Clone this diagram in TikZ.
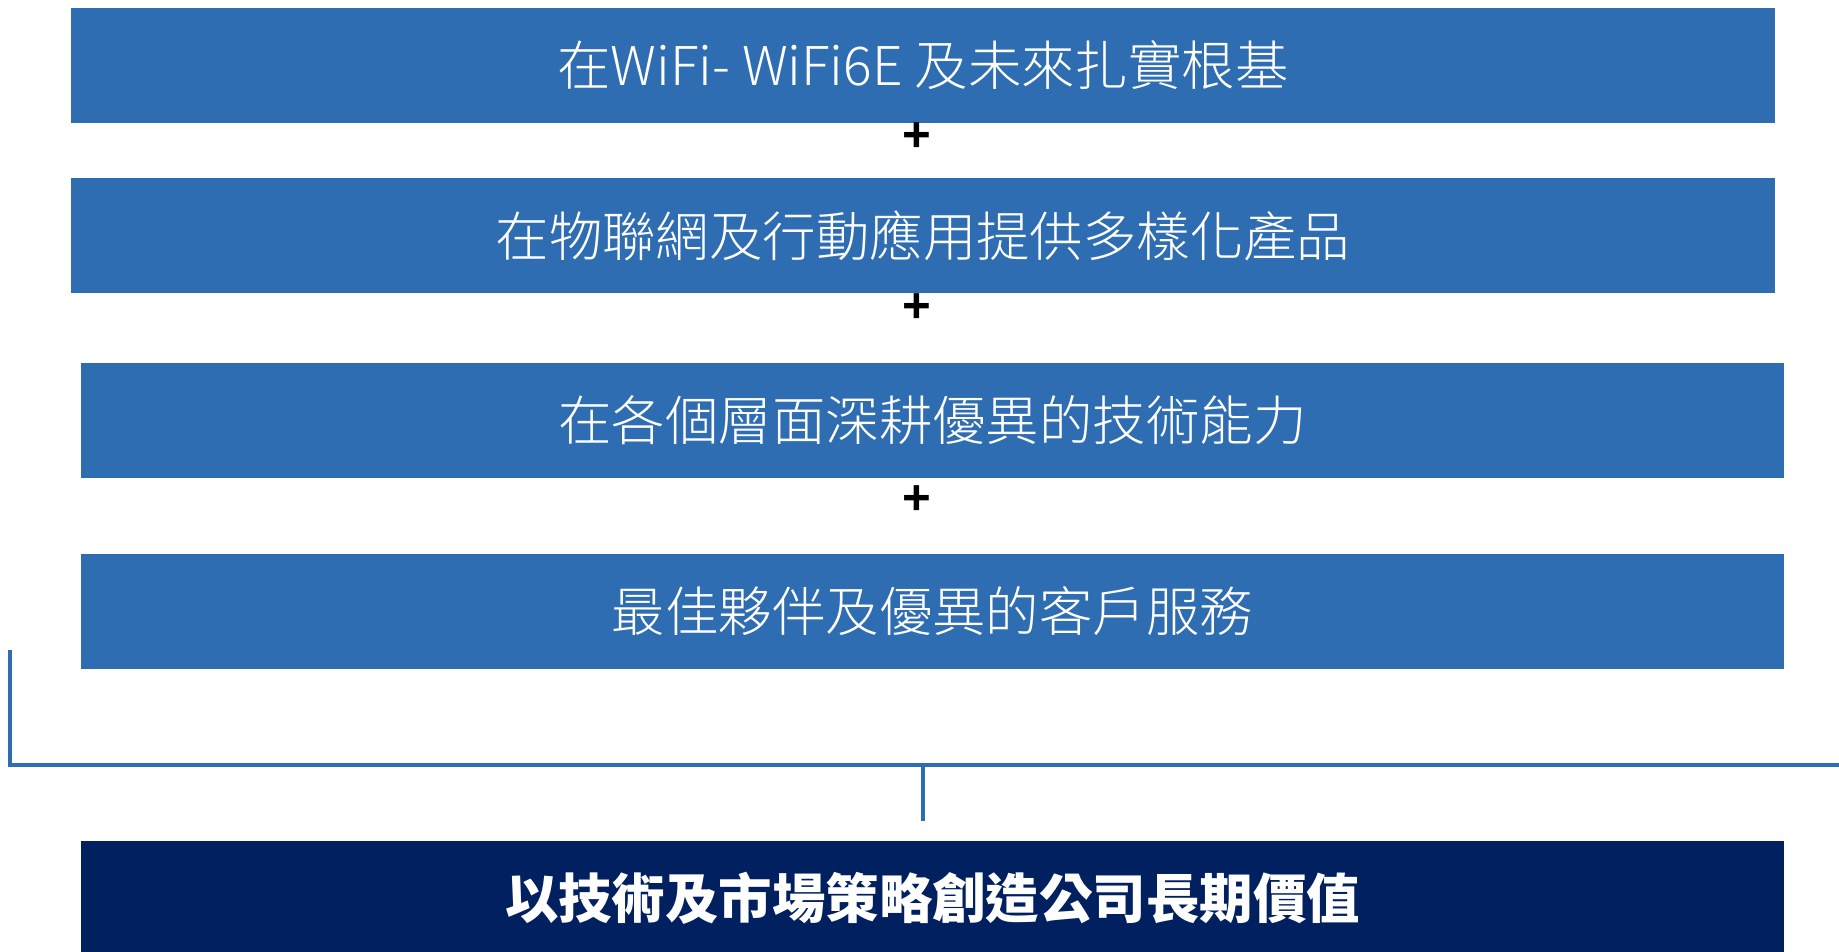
\documentclass[tikz,border=0pt]{standalone}
\usepackage{fontspec}
\usepackage{tikz}
\usetikzlibrary{calc, positioning}
\newfontfamily\cjk{Noto Sans CJK TC}
\newfontfamily\cjklight{Noto Sans CJK TC Light}
\newfontfamily\plusfont{Liberation Sans}
\definecolor{barblue}{HTML}{2F6DB3}
\definecolor{valuenavy}{HTML}{002060}

\begin{document}
\begin{tikzpicture}[x=0.1mm, y=-0.1mm,
    bar/.style={fill=barblue, minimum width=170.4mm, minimum height=11.5mm,
        inner sep=0pt, text=white, font=\cjklight\fontsize{15.2}{18}\selectfont},
    plus/.style={inner sep=0pt, font=\plusfont\bfseries\fontsize{14}{14}\selectfont},
    bracket/.style={draw=barblue, line width=0.95pt}]
    \useasboundingbox (0,0) rectangle (1839,952);

    % Upper bars
    \node[bar] (wifi) at (923,65.5) {在WiFi- WiFi6E 及未來扎實根基};
    \node[bar] (iot) at (923,235.5) {在物聯網及行動應用提供多樣化產品};
    \node[bar, minimum width=170.3mm] (tech) at (932.5,420.5) {在各個層面深耕優異的技術能力};
    \node[bar, minimum width=170.3mm] (service) at (932.5,611.5) {最佳夥伴及優異的客戶服務};

    % Plus signs
    \foreach \y/\name in {137/plusa, 308/plusb, 500/plusc} {
        \node[plus] (\name) at (917,\y) {+};
    }

    % Result
    \node[bar, minimum width=170.3mm, fill=valuenavy, font=\cjk\bfseries\fontsize{15.2}{18}\selectfont]
        (value) at (932.5,898.5) {以技術及市場策略創造公司長期價值};

    % Bracket
    \coordinate (left) at (10,650);
    \coordinate (right) at (1839,765);
    \coordinate (stem) at (923,821);
    \draw[bracket] (left) |- (right);
    \draw[bracket] (stem) -- (stem |- right);
\end{tikzpicture}
\end{document}
